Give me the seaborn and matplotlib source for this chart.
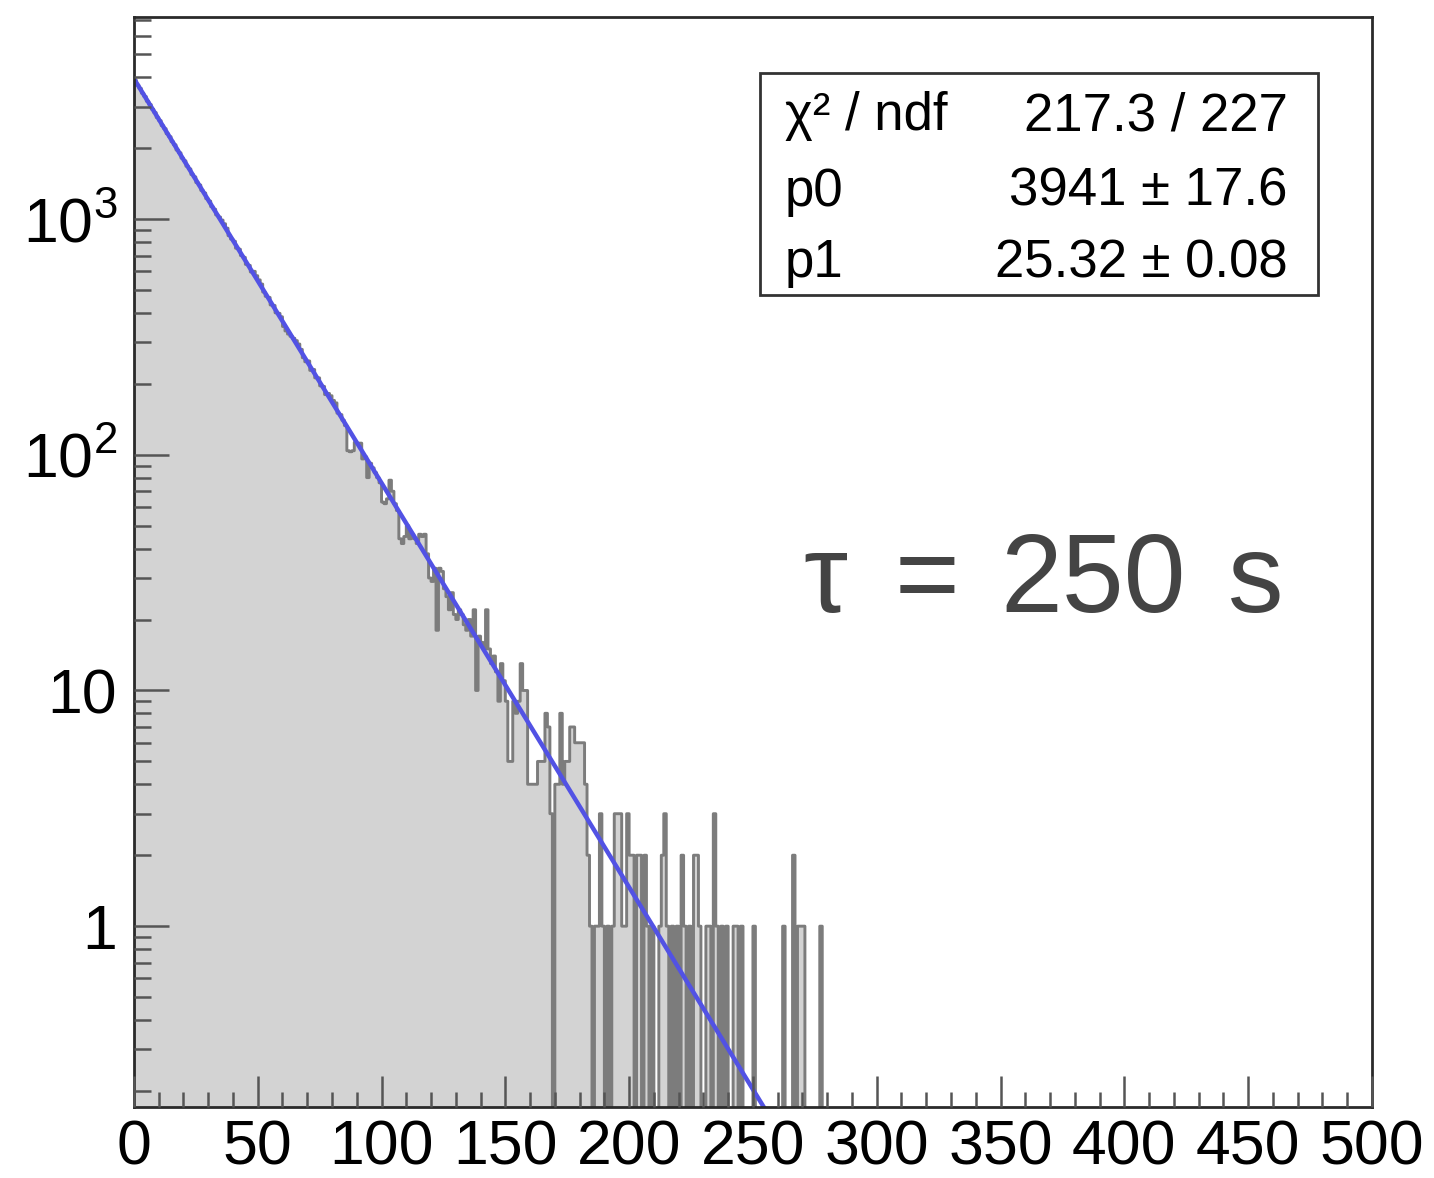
import numpy as np
import pandas as pd
import seaborn as sns
from matplotlib import pyplot as plt
from matplotlib.patches import Rectangle
from matplotlib.ticker import (FixedLocator, FixedFormatter, MultipleLocator,
                               LogLocator, NullFormatter)

# fit result shown in the stats box
chi2_ndf = "217.3 / 227"
p0, p0_err = 3941, 17.6
p1, p1_err = 25.32, 0.08
tau_parts = ["τ", "=", "250", "s"]

# entries per 1 s bin
counts_0_79 = [
    3880, 3702, 3585, 3418, 3310, 3160, 3061, 2925, 2830, 2695,
    2615, 2490, 2418, 2300, 2236, 2128, 2066, 1962, 1910, 1812,
    1766, 1675, 1632, 1545, 1510, 1428, 1395, 1322, 1290, 1220,
    1192, 1128, 1101, 1041, 1020, 990, 955, 915, 850, 822,
    805, 752, 745, 700, 688, 642, 636, 596, 600, 575,
    552, 530, 490, 470, 465, 432, 430, 400, 398, 385,
    350, 335, 325, 318, 312, 305, 295, 280, 258, 248,
    250, 228, 230, 212, 212, 196, 195, 180, 182, 178,
]
counts_80_159 = [
    170, 166, 150, 148, 140, 133, 104, 103, 104, 113,
    112, 112, 96, 98, 80, 92, 88, 84, 80, 76,
    63, 62, 65, 78, 70, 62, 58, 44, 42, 45,
    50, 44, 46, 44, 42, 46, 45, 46, 38, 30,
    29, 33, 18, 33, 32, 27, 25, 22, 26, 21,
    20, 22, 21, 19, 18, 20, 17, 22, 10, 17,
    16, 15, 22, 15, 13, 14, 12, 9, 13, 11,
    9, 5, 5, 9, 8, 9, 13, 10, 10, 4,
]
counts_160_279 = [
    4, 4, 4, 5, 5, 5, 8, 7, 3, 0,
    4, 4, 8, 4, 5, 5, 7, 7, 6, 6,
    6, 6, 4, 2, 1, 0, 1, 1, 3, 1,
    0, 1, 0, 1, 3, 3, 3, 1, 1, 3,
    2, 2, 0, 2, 2, 0, 2, 1, 0, 1,
    0, 0, 1, 2, 3, 1, 0, 1, 0, 1,
    0, 2, 1, 0, 1, 0, 2, 2, 1, 0,
    0, 1, 1, 0, 3, 1, 0, 1, 0, 1,
    0, 0, 1, 1, 0, 1, 0, 0, 0, 0,
    1, 0, 0, 0, 0, 0, 0, 0, 0, 0,
    0, 0, 1, 0, 0, 0, 2, 0, 1, 1,
    1, 0, 0, 0, 0, 0, 0, 1, 0, 0,
]
n_bins = 500
x_max = 500

counts = counts_0_79 + counts_80_159 + counts_160_279
counts = counts + [0] * (n_bins - len(counts))
bin_w = x_max / n_bins
hist = pd.DataFrame({"t": (np.arange(n_bins) + 0.5) * bin_w, "n": counts})

sns.set_style("white")
plt.rcParams["font.family"] = ["Liberation Sans", "DejaVu Sans"]
plt.rcParams["text.color"] = "black"
plt.rcParams["mathtext.fontset"] = "custom"
plt.rcParams["mathtext.rm"] = "Liberation Sans"
plt.rcParams["mathtext.it"] = "Liberation Sans:italic"

fig = plt.figure(figsize=(14.34, 11.78), dpi=100)
ax = fig.add_axes([0.0934, 0.0603, 0.8633, 0.9253])

sns.histplot(data=hist, x="t", weights="n", binwidth=bin_w,
             binrange=(0, x_max), element="step", fill=True,
             color="#d3d3d3", edgecolor="#7c7c7c", alpha=1,
             linewidth=2.1, ax=ax)

fit_x = np.linspace(0, x_max, 1001)
fit = pd.DataFrame({"t": fit_x, "f": p0 * np.exp(-fit_x / p1)})
sns.lineplot(data=fit, x="t", y="f", color="#5252e4", linewidth=3.2, ax=ax)

ax.set_yscale("log")
ax.set_xlim(0, x_max)
ax.set_ylim(0.171, 7200)
ax.set_xlabel("")
ax.set_ylabel("")
ax.set_axisbelow(False)

ax.xaxis.set_major_locator(MultipleLocator(50))
ax.xaxis.set_minor_locator(MultipleLocator(10))
ax.yaxis.set_major_locator(FixedLocator([1, 10, 100, 1000]))
ax.yaxis.set_major_formatter(FixedFormatter(["1", "10", "$10^2$", "$10^3$"]))
ax.yaxis.set_minor_locator(LogLocator(base=10, subs=np.arange(2, 10)))
ax.yaxis.set_minor_formatter(NullFormatter())

ax.tick_params(which="both", direction="in", bottom=True, left=True,
               top=False, right=False, color="#555555", width=1.8,
               labelsize=45, labelcolor="black")
ax.tick_params(axis="x", which="major", length=22, pad=8)
ax.tick_params(axis="x", which="minor", length=11)
ax.tick_params(axis="y", which="major", length=25, pad=12)
ax.tick_params(axis="y", which="minor", length=12)
for s in ax.spines.values():
    s.set_linewidth(2)
    s.set_color("#2a2a2a")

# stats box
ax.add_patch(Rectangle((0.5057, 0.745), 0.4507, 0.2036, transform=ax.transAxes,
                       facecolor="white", edgecolor="#333333", linewidth=2,
                       zorder=5))
rows = [("χ² / ndf", chi2_ndf),
        ("p0", f"{p0} ± {p0_err}"),
        ("p1", f"{p1:.2f} ± {p1_err:.2f}")]
for (name, val), y in zip(rows, [0.896, 0.827, 0.761]):
    ax.text(0.526, y, name, transform=ax.transAxes, fontsize=38,
            va="baseline", ha="left", zorder=6)
    ax.text(0.932, y, val, transform=ax.transAxes, fontsize=38,
            va="baseline", ha="right", zorder=6)

# tau annotation, spaced out like the original
for part, px in zip(tau_parts, [803, 895, 1000, 1228]):
    fig.text(px / 1434, 1 - 612 / 1178, part, fontsize=80,
             family=["Liberation Sans", "DejaVu Sans"],
             color="#444444", ha="left", va="baseline")

fig.savefig("out.png", dpi=100)
